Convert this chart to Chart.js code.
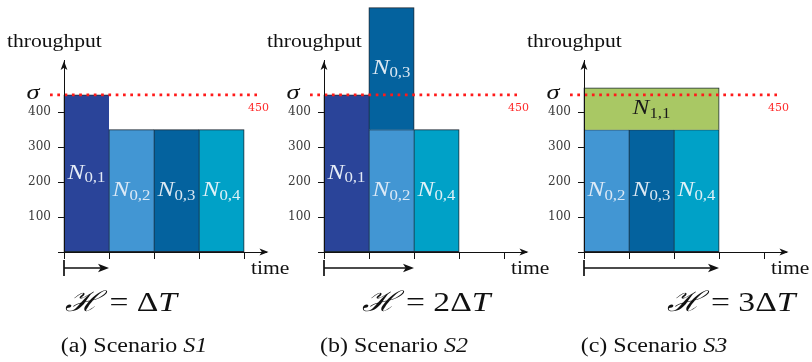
<!DOCTYPE html>
<html>
<head>
<meta charset="utf-8">
<script src="https://cdn.jsdelivr.net/npm/chart.js@4.4.1/dist/chart.umd.min.js"></script>
<style>
  body { margin: 0; background: #fff; }
  #wrap { position: relative; width: 812px; height: 362px; }
  #wrap canvas { position: absolute; left: 0; top: 0; }
</style>
</head>
<body>
<div id="wrap">
  <canvas id="s1" width="812" height="362"></canvas>
  <canvas id="s2" width="812" height="362"></canvas>
  <canvas id="s3" width="812" height="362"></canvas>
</div>
<script>
// data
const yTicks = [0, 100, 200, 300, 400];
const xTicks = [0, 1, 2, 3, 4];
const sigma = 450;

const s1Names = ['N0,1', 'N0,2', 'N0,3', 'N0,4'];
const s1Start = [0, 1, 2, 3];
const s1Span = [1, 1, 1, 1];
const s1Low = [0, 0, 0, 0];
const s1High = [450, 350, 350, 350];

const s2Names = ['N0,1', 'N0,2', 'N0,3', 'N0,4'];
const s2Start = [0, 1, 1, 2];
const s2Span = [1, 1, 1, 1];
const s2Low = [0, 0, 350, 0];
const s2High = [450, 350, 700, 350];

const s3Names = ['N0,2', 'N0,3', 'N0,4', 'N1,1'];
const s3Start = [0, 1, 2, 0];
const s3Span = [1, 1, 1, 3];
const s3Low = [0, 0, 0, 350];
const s3High = [350, 350, 350, 470];

const horizons = [1, 2, 3];
const captionLetters = ['a', 'b', 'c'];
const scenarioIds = ['S1', 'S2', 'S3'];

// styles
const colours = {
  'N0,1': '#2a4499',
  'N0,2': '#4296d3',
  'N0,3': '#04629e',
  'N0,4': '#00a1c7',
  'N1,1': '#a9c864'
};
const labelColours = {
  'N0,1': '#e4ebf6',
  'N0,2': '#dce9f6',
  'N0,3': '#dce8f2',
  'N0,4': '#dff1f7',
  'N1,1': '#1a1a1a'
};
const serif = '"Liberation Serif", "DejaVu Serif", serif';
const stretch = 1.2;

function richText(ctx, parts, x, y, align, colour) {
  ctx.save();
  ctx.fillStyle = colour || '#111';
  ctx.textBaseline = 'middle';
  ctx.textAlign = 'left';
  let total = 0;
  parts.forEach(p => {
    ctx.font = p.font;
    p.w = ctx.measureText(p.t).width * stretch;
    total += p.w;
  });
  let left = x;
  if (align === 'center') left = x - total / 2;
  if (align === 'right') left = x - total;
  parts.forEach(p => {
    ctx.save();
    ctx.font = p.font;
    ctx.translate(left, y + (p.dy || 0));
    ctx.scale(stretch, 1);
    ctx.fillText(p.t, 0, 0);
    ctx.restore();
    left += p.w;
  });
  ctx.restore();
}

function arrowHead(ctx, x, y, dir, len, half) {
  len = len || 9;
  half = half || 3.4;
  ctx.beginPath();
  if (dir === 'up') {
    ctx.moveTo(x, y);
    ctx.lineTo(x - half, y + len);
    ctx.lineTo(x, y + len * 0.75);
    ctx.lineTo(x + half, y + len);
  } else {
    ctx.moveTo(x, y);
    ctx.lineTo(x - len, y - half);
    ctx.lineTo(x - len * 0.75, y);
    ctx.lineTo(x - len, y + half);
  }
  ctx.closePath();
  ctx.fill();
}

function buildSegments(names, start, span, low, high) {
  const segs = [];
  names.forEach((n, i) => {
    for (let k = 0; k < span[i]; k++) {
      segs.push({ name: n, x: start[i] + k + 0.5, y: [low[i], high[i]], slot: start[i] + k, first: k === 0, last: k === span[i] - 1 });
    }
  });
  // border edges: skip an edge that another bar already draws
  segs.forEach(s => {
    const rightNeighbour = segs.some(o => o.slot === s.slot + 1 && o.y[0] < s.y[1] && s.y[0] < o.y[1]);
    const below = segs.some(o => o.slot === s.slot && o.y[1] === s.y[0]);
    s.border = {
      top: 1,
      bottom: below ? 0 : 1,
      left: s.first ? 1 : 0,
      right: s.last && !rightNeighbour ? 1 : 0
    };
  });
  return segs;
}

function scenarioPlugin(p) {
  return {
    id: 'scenario' + p.index,
    afterDatasetsDraw(chart) {
      const ctx = chart.ctx;
      const xs = chart.scales.x;
      const ys = chart.scales.y;
      const ax = xs.getPixelForValue(0);
      const base = ys.getPixelForValue(0);
      const top = chart.chartArea.top;
      const right = chart.chartArea.right;

      // bar labels
      p.names.forEach((n, i) => {
        const cx = (xs.getPixelForValue(p.start[i]) + xs.getPixelForValue(p.start[i] + p.span[i])) / 2;
        const cy = ys.getPixelForValue((p.low[i] + p.high[i]) / 2);
        richText(ctx, [
          { t: 'N', font: 'italic 21px ' + serif },
          { t: n.slice(1), font: '14px ' + serif, dy: 5 }
        ], cx, cy, 'center', labelColours[n]);
      });

      // sigma line
      const sy = ys.getPixelForValue(sigma);
      ctx.save();
      ctx.strokeStyle = '#ff1a1a';
      ctx.lineWidth = 2.7;
      ctx.setLineDash([2.7, 4.6]);
      ctx.beginPath();
      ctx.moveTo(ax - 14, sy);
      ctx.lineTo(ax + 193, sy);
      ctx.stroke();
      ctx.restore();
      richText(ctx, [{ t: 'σ', font: 'italic 22px ' + serif }], ax - 31, sy - 2, 'center', '#111');
      ctx.save();
      ctx.font = '11px "DejaVu Serif", serif';
      ctx.fillStyle = '#ff2a2a';
      ctx.textBaseline = 'middle';
      ctx.fillText(String(sigma), ax + 184, sy + 13);
      ctx.restore();

      // axis arrows
      ctx.save();
      ctx.fillStyle = '#111';
      arrowHead(ctx, ax, top + 1, 'up');
      arrowHead(ctx, right + 2, base, 'right');

      // horizon arrow
      const hy = base + 16;
      const hx = xs.getPixelForValue(p.horizon);
      ctx.strokeStyle = '#111';
      ctx.lineWidth = 1.7;
      ctx.beginPath();
      ctx.moveTo(ax, hy - 8);
      ctx.lineTo(ax, hy + 8);
      ctx.moveTo(ax, hy);
      ctx.lineTo(hx - 7, hy);
      ctx.stroke();
      arrowHead(ctx, hx, hy, 'right', 11, 4.2);
      ctx.restore();

      // texts
      richText(ctx, [{ t: 'throughput', font: '18px ' + serif }], ax - 57, 42, 'left');
      richText(ctx, [{ t: 'time', font: '18px ' + serif }], ax + 187, 269, 'left');
      const coef = p.horizon === 1 ? '' : String(p.horizon);
      richText(ctx, [
        { t: 'ℋ', font: 'italic 28px "DejaVu Serif", serif' },
        { t: ' = ' + coef + 'Δ', font: '28px ' + serif },
        { t: 'T', font: 'italic 28px ' + serif }
      ], hx + 12, 304, 'center');
      richText(ctx, [
        { t: '(' + p.letter + ') Scenario ', font: '20px ' + serif },
        { t: p.id, font: 'italic 20px ' + serif }
      ], ax + 70, 347, 'center');
    }
  };
}

function makeChart(id, index, axisX, names, start, span, low, high) {
  const segs = buildSegments(names, start, span, low, high);
  const yWidth = 40;
  const plotWidth = 202.5;
  return new Chart(document.getElementById(id), {
    type: 'bar',
    data: {
      datasets: [{
        data: segs,
        backgroundColor: ctx => colours[ctx.raw.name],
        borderColor: '#1d2a36',
        borderWidth: ctx => ctx.raw.border,
        borderSkipped: false,
        barPercentage: 1,
        categoryPercentage: 1,
        inflateAmount: 0.5,
        grouped: false,
        clip: false
      }]
    },
    options: {
      responsive: false,
      animation: false,
      events: [],
      layout: {
        padding: { left: axisX - yWidth, right: 812 - axisX - plotWidth, top: 60, bottom: 103 }
      },
      scales: {
        x: {
          type: 'linear',
          min: 0,
          max: 4.5,
          offset: false,
          afterBuildTicks: s => { s.ticks = xTicks.map(v => ({ value: v })); },
          afterFit: s => { s.height = 7; },
          ticks: { display: false },
          grid: { drawOnChartArea: false, offset: false, tickLength: 7, color: '#111' },
          border: { color: '#111', width: 1, z: 1 }
        },
        y: {
          min: 0,
          max: 550,
          afterBuildTicks: s => { s.ticks = yTicks.map(v => ({ value: v })); },
          afterFit: s => { s.width = yWidth; },
          ticks: {
            callback: v => v === 0 ? '' : v,
            font: { family: '"DejaVu Serif", serif', size: 12 },
            color: '#3a3a3a',
            padding: 7
          },
          grid: { drawOnChartArea: false, tickLength: 6, color: '#111' },
          border: { color: '#111', width: 1, z: 1 }
        }
      },
      plugins: {
        legend: { display: false },
        tooltip: { enabled: false }
      }
    },
    plugins: [scenarioPlugin({
      index, names, start, span, low, high,
      horizon: horizons[index],
      letter: captionLetters[index],
      id: scenarioIds[index]
    })]
  });
}

makeChart('s1', 0, 64, s1Names, s1Start, s1Span, s1Low, s1High);
makeChart('s2', 1, 324, s2Names, s2Start, s2Span, s2Low, s2High);
makeChart('s3', 2, 584, s3Names, s3Start, s3Span, s3Low, s3High);
</script>
</body>
</html>
